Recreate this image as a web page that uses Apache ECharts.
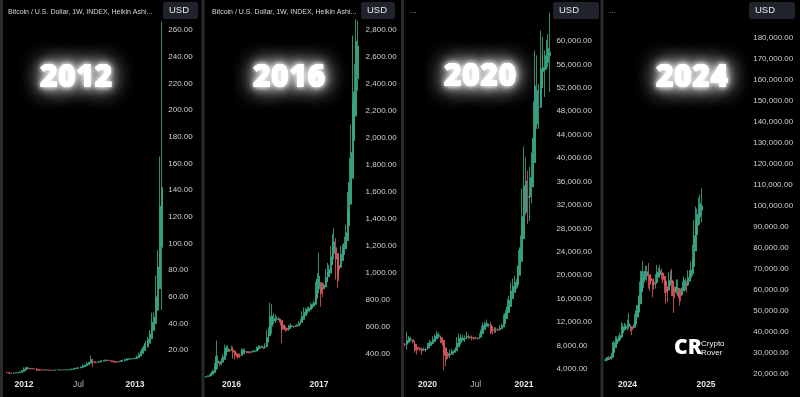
<!DOCTYPE html>
<html><head><meta charset="utf-8">
<script src="https://cdn.jsdelivr.net/npm/echarts/dist/echarts.min.js"></script>
<style>html,body{margin:0;padding:0;background:#000;}#c{width:800px;height:397px;}</style>
</head><body><div id="c"></div>
<script>
// ---------- DATA ----------
const dates2012 = ['2011-11-07','2011-11-14','2011-11-21','2011-11-28','2011-12-05','2011-12-12','2011-12-19','2011-12-26',
'2012-01-02','2012-01-09','2012-01-16','2012-01-23','2012-01-30','2012-02-06','2012-02-13','2012-02-20','2012-02-27','2012-03-05','2012-03-12','2012-03-19','2012-03-26','2012-04-02','2012-04-09','2012-04-16','2012-04-23','2012-04-30','2012-05-07','2012-05-14','2012-05-21','2012-05-28','2012-06-04','2012-06-11','2012-06-18','2012-06-25','2012-07-02','2012-07-09','2012-07-16','2012-07-23','2012-07-30','2012-08-06','2012-08-13','2012-08-20','2012-08-27','2012-09-03','2012-09-10','2012-09-17','2012-09-24','2012-10-01','2012-10-08','2012-10-15','2012-10-22','2012-10-29','2012-11-05','2012-11-12','2012-11-19','2012-11-26','2012-12-03','2012-12-10','2012-12-17','2012-12-24','2012-12-31',
'2013-01-07','2013-01-14','2013-01-21','2013-01-28','2013-02-04','2013-02-11','2013-02-18','2013-02-25','2013-03-04','2013-03-11','2013-03-18','2013-03-25','2013-04-01','2013-04-08'];
// Heikin Ashi weekly candles: [open, close, low, high]
const candles2012 = [[3.1,3.0,2.8,3.2],[3.05,2.58,2.0,3.05],[2.81,2.38,2.1,2.81],[2.6,2.8,2.5,3.2],[2.7,2.98,2.7,3.1],[2.84,3.13,2.84,3.3],[2.98,3.58,2.98,4.0],[3.28,4.35,3.28,5.0],
[3.82,5.78,3.82,7.0],[4.8,6.88,4.8,7.4],[5.84,6.6,5.84,7.2],[6.22,5.93,5.3,6.5],[6.07,5.83,5.6,6.2],[5.95,5.78,5.5,6.0],[5.86,5.03,4.2,5.86],[5.45,4.7,4.3,5.45],[5.07,4.88,4.7,5.07],[4.98,4.95,4.8,5.2],[4.96,5.13,4.9,5.4],[5.04,5.03,4.7,5.4],[5.03,4.83,4.7,5.03],[4.93,4.9,4.8,5.0],[4.91,4.9,4.8,5.0],[4.9,5.03,4.9,5.2],[4.97,5.1,4.97,5.2],[5.03,5.1,5.0,5.2],[5.07,5.03,4.9,5.1],[5.05,5.06,5.0,5.1],[5.05,5.15,5.05,5.2],[5.1,5.25,5.1,5.4],[5.18,5.48,5.18,5.7],[5.33,5.8,5.33,6.1],[5.56,6.25,5.56,6.6],[5.9,6.5,5.9,6.7],[6.2,6.73,6.2,7.0],[6.47,7.2,6.47,7.7],[6.83,8.18,6.83,9.0],[7.5,8.75,7.5,9.0],[8.13,9.8,8.13,10.9],[8.97,10.83,8.97,11.3],[9.9,12.83,9.9,15.9],[11.36,11.08,7.1,13.6],[11.22,10.45,10.0,11.22],[10.84,10.85,10.5,11.3],[10.84,11.28,10.84,11.7],[11.06,11.93,11.06,12.5],[11.5,12.28,11.5,12.5],[11.89,12.53,11.89,13.0],[12.21,12.2,11.7,12.6],[12.2,11.85,11.6,12.2],[12.03,11.38,10.7,12.03],[11.7,10.95,10.5,11.7],[11.33,10.8,10.5,11.33],[11.06,11.05,10.8,11.3],[11.06,11.7,11.06,12.3],[11.38,12.33,11.38,12.6],[11.85,12.95,11.85,13.5],[12.4,13.45,12.4,13.7],[12.93,13.43,12.93,13.6],[13.18,13.38,13.18,13.5],[13.28,13.43,13.2,13.6],
[13.35,13.88,13.35,14.4],[13.6,14.88,13.6,15.8],[14.24,16.58,14.24,18.0],[15.4,19.05,15.4,20.8],[17.2,21.75,17.2,23.5],[19.5,24.9,19.5,27.0],[22.2,28.0,22.2,30.0],[25.1,32.0,25.1,35.0],[28.55,40.85,28.55,48.0],[34.7,44.7,34.7,48.0],[39.7,60.0,39.7,76.0],[49.85,82.25,49.85,95.0],[66.0,128.0,66.0,165.0],[97.0,142.0,50.0,266.0]];
const tickDates2012 = ['2012-01-02','2012-07-02','2013-01-07'];
const tickText2012 = ['2012','Jul','2013'];

const dates2016 = ['2015-09-21','2015-09-28','2015-10-05','2015-10-12','2015-10-19','2015-10-26','2015-11-02','2015-11-09','2015-11-16','2015-11-23','2015-11-30','2015-12-07','2015-12-14','2015-12-21','2015-12-28',
'2016-01-04','2016-01-11','2016-01-18','2016-01-25','2016-02-01','2016-02-08','2016-02-15','2016-02-22','2016-02-29','2016-03-07','2016-03-14','2016-03-21','2016-03-28','2016-04-04','2016-04-11','2016-04-18','2016-04-25','2016-05-02','2016-05-09','2016-05-16','2016-05-23','2016-05-30','2016-06-06','2016-06-13','2016-06-20','2016-06-27','2016-07-04','2016-07-11','2016-07-18','2016-07-25','2016-08-01','2016-08-08','2016-08-15','2016-08-22','2016-08-29','2016-09-05','2016-09-12','2016-09-19','2016-09-26','2016-10-03','2016-10-10','2016-10-17','2016-10-24','2016-10-31','2016-11-07','2016-11-14','2016-11-21','2016-11-28','2016-12-05','2016-12-12','2016-12-19','2016-12-26',
'2017-01-02','2017-01-09','2017-01-16','2017-01-23','2017-01-30','2017-02-06','2017-02-13','2017-02-20','2017-02-27','2017-03-06','2017-03-13','2017-03-20','2017-03-27','2017-04-03','2017-04-10','2017-04-17','2017-04-24','2017-05-01','2017-05-08','2017-05-15','2017-05-22','2017-05-29','2017-06-05','2017-06-12'];
const candles2016 = [[232,232,225,237],[232,238,232,241],[235,243,235,247],[239,257,239,270],[248,275,248,285],[262,307,262,335],[284,382,284,500],[333,349,290,390],[341,326,310,341],[333,344,315,370],[339,379,339,400],[359,421,359,470],[390,447,390,465],[419,440,415,465],[429,425,415,435],
[427,440,425,460],[434,413,365,455],[423,392,360,423],[408,392,375,410],[400,377,365,400],[388,387,370,405],[388,420,388,445],[404,431,404,440],[417,419,395,440],[418,412,405,420],[415,412,405,420],[414,413,405,420],[413,418,410,425],[416,420,415,425],[418,424,418,430],[421,439,421,455],[430,451,430,466],[441,454,440,465],[447,455,445,462],[451,448,435,456],[450,458,438,480],[454,522,454,580],[488,581,488,600],[534,677,534,780],[606,682,550,770],[644,662,620,700],[653,660,630,690],[656,660,645,680],[658,661,650,675],[659,637,610,660],[648,581,480,648],[615,589,580,615],[602,580,565,602],[591,579,570,591],[585,592,570,615],[589,612,589,630],[601,607,600,612],[604,603,595,610],[603,606,598,615],[605,614,605,620],[609,629,609,645],[619,646,619,660],[633,680,633,715],[656,709,656,745],[683,720,683,740],[701,732,700,750],[717,740,717,750],[728,752,728,780],[740,767,740,775],[754,781,754,795],[767,859,767,935],[813,954,813,1000],
[883,976,850,1150],[929,849,750,929],[889,875,820,930],[882,911,882,925],[896,969,896,1030],[932,1010,932,1075],[971,1027,971,1060],[999,1121,999,1200],[1060,1227,1060,1290],[1144,1232,1100,1330],[1188,1102,950,1260],[1145,970,890,1145],[1057,1027,940,1110],[1042,1140,1042,1200],[1091,1182,1091,1210],[1137,1219,1137,1270],[1178,1300,1178,1360],[1239,1462,1239,1600],[1350,1670,1350,1850],[1510,1892,1510,2100],[1701,2262,1701,2760],[1982,2342,1982,2550],[2162,2717,2162,2880],[2440,2682,2350,2870]];
const tickDates2016 = ['2016-01-04','2017-01-02'];
const tickText2016 = ['2016','2017'];

const dates2020 = ['2019-10-14','2019-10-21','2019-10-28','2019-11-04','2019-11-11','2019-11-18','2019-11-25','2019-12-02','2019-12-09','2019-12-16','2019-12-23','2019-12-30',
'2020-01-06','2020-01-13','2020-01-20','2020-01-27','2020-02-03','2020-02-10','2020-02-17','2020-02-24','2020-03-02','2020-03-09','2020-03-16','2020-03-23','2020-03-30','2020-04-06','2020-04-13','2020-04-20','2020-04-27','2020-05-04','2020-05-11','2020-05-18','2020-05-25','2020-06-01','2020-06-08','2020-06-15','2020-06-22','2020-06-29','2020-07-06','2020-07-13','2020-07-20','2020-07-27','2020-08-03','2020-08-10','2020-08-17','2020-08-24','2020-08-31','2020-09-07','2020-09-14','2020-09-21','2020-09-28','2020-10-05','2020-10-12','2020-10-19','2020-10-26','2020-11-02','2020-11-09','2020-11-16','2020-11-23','2020-11-30','2020-12-07','2020-12-14','2020-12-21','2020-12-28',
'2021-01-04','2021-01-11','2021-01-18','2021-01-25','2021-02-01','2021-02-08','2021-02-15','2021-02-22','2021-03-01','2021-03-08','2021-03-15','2021-03-22','2021-03-29','2021-04-05','2021-04-12'];
const candles2020 = [[8250,8205,7900,8400],[8227,8855,7300,10350],[8541,9325,8541,9600],[8933,9050,8700,9500],[8991,8650,8400,8991],[8820,7712,6800,8820],[8266,7200,6500,8266],[7733,7450,7150,7750],[7591,7312,7050,7600],[7452,7082,6430,7500],[7267,7362,7100,7650],[7315,7330,6870,7600],
[7322,7850,7322,8450],[7586,8450,7586,9000],[8018,8562,8018,8750],[8290,9025,8290,9600],[8657,9575,8657,9900],[9116,10000,9116,10500],[9558,9762,9300,10200],[9660,9075,8400,9700],[9367,8450,8000,9367],[8908,6337,3800,8908],[7622,5650,4450,7622],[6636,6187,5700,6900],[6411,6575,5850,7300],[6493,7000,6493,7450],[6746,6937,6500,7200],[6841,7350,6800,7750],[7095,8425,7095,9450],[7760,9275,7760,10050],[8517,9312,8100,9950],[8914,9300,8800,9850],[9107,9187,8650,9750],[9147,9700,9147,10400],[9423,9537,9200,9950],[9480,9350,9150,9600],[9415,9275,8900,9750],[9345,9187,9000,9345],[9266,9287,9100,9450],[9276,9212,9050,9350],[9244,9575,9100,10100],[9410,10587,9410,11400],[9998,11450,9998,11900],[10724,11762,10724,12100],[11243,11825,11243,12450],[11534,11550,11100,11750],[11542,10975,9900,12050],[11258,10262,9900,11258],[10760,10687,10200,11150],[10723,10775,10150,11100],[10749,10687,10400,10950],[10718,11012,10550,11500],[10865,11450,10865,11750],[11157,12325,11157,13300],[11741,13450,11741,14050],[12595,14625,12595,15950],[13610,15712,13610,16450],[14661,17337,14661,18800],[15999,18137,15999,19450],[17068,18837,17068,19900],[17952,18850,17600,19400],[18401,21600,18401,24300],[20000,24712,20000,26800],[22356,30037,22356,34800],
[26196,35275,26196,41950],[30735,36087,30300,40100],[33411,33300,28800,37850],[33355,33575,29250,38500],[33465,36700,32300,40950],[35080,43387,35080,49700],[39230,52362,39230,58350],[45800,51550,44950,57550],[48680,48712,45000,52650],[48696,55275,48696,61800],[51985,57575,51985,60700],[54780,55500,50450,58350],[55140,57487,55140,60200],[56313,58700,55500,61200],[57506,58087,51300,64850]];
const tickDates2020 = ['2020-01-06','2020-07-06','2021-01-04'];
const tickText2020 = ['2020','Jul','2021'];

const dates2024 = ['2023-09-18','2023-09-25','2023-10-02','2023-10-09','2023-10-16','2023-10-23','2023-10-30','2023-11-06','2023-11-13','2023-11-20','2023-11-27','2023-12-04','2023-12-11','2023-12-18','2023-12-25',
'2024-01-01','2024-01-08','2024-01-15','2024-01-22','2024-01-29','2024-02-05','2024-02-12','2024-02-19','2024-02-26','2024-03-04','2024-03-11','2024-03-18','2024-03-25','2024-04-01','2024-04-08','2024-04-15','2024-04-22','2024-04-29','2024-05-06','2024-05-13','2024-05-20','2024-05-27','2024-06-03','2024-06-10','2024-06-17','2024-06-24','2024-07-01','2024-07-08','2024-07-15','2024-07-22','2024-07-29','2024-08-05','2024-08-12','2024-08-19','2024-08-26','2024-09-02','2024-09-09','2024-09-16','2024-09-23','2024-09-30','2024-10-07','2024-10-14','2024-10-21','2024-10-28','2024-11-04','2024-11-11','2024-11-18','2024-11-25','2024-12-02','2024-12-09','2024-12-16','2024-12-23','2024-12-30',
'2025-01-06','2025-01-13','2025-01-20','2025-01-27','2025-02-03','2025-02-10','2025-02-17','2025-02-24','2025-03-03','2025-03-10','2025-03-17','2025-03-24','2025-03-31','2025-04-07','2025-04-14','2025-04-21','2025-04-28','2025-05-05','2025-05-12','2025-05-19','2025-05-26','2025-06-02','2025-06-09','2025-06-16','2025-06-23','2025-06-30','2025-07-07','2025-07-14','2025-07-21'];
const candles2024 = [[26500,26600,26100,27500],[26550,27050,26000,28000],[26800,27912,26800,28600],[27356,27325,26550,27950],[27340,28400,26800,30000],[27870,32400,27870,35200],[30135,34875,30135,35950],[32505,36162,32505,38000],[34333,36800,34333,37950],[35566,37225,35566,38400],[36395,38350,36395,39700],[37372,41875,37372,44700],[39623,42525,39623,44000],[41074,42412,40550,44300],[41743,42575,41400,43800],
[42159,43212,40750,45900],[42685,44050,41500,49000],[43367,41712,40300,43367],[42540,41075,38500,42540],[41807,42587,41807,43850],[42197,45437,42197,48600],[43817,50250,43817,52850],[47033,51837,47033,52950],[49435,57237,49435,64000],[53336,64712,53336,69200],[59024,68762,59024,73800],[63893,66337,60800,68950],[65115,68875,65115,71700],[66995,68700,64500,71300],[67847,66700,60650,72800],[67273,63862,59600,67273],[65567,64412,62400,67200],[64990,62075,56550,64990],[63532,62775,60200,65500],[63153,64187,60650,67650],[63670,68412,63670,71950],[66041,68387,66041,70600],[67214,69225,67214,71950],[68219,67887,65050,70200],[68053,64975,63150,68053],[66514,61912,58400,66514],[64213,58962,53500,64213],[61587,58075,54250,61587],[59831,64487,59831,68350],[62159,67300,62159,69350],[64729,63387,57100,70050],[64058,57150,49050,64058],[60604,58825,56100,61550],[59714,61525,57850,65100],[60620,60912,57200,64950],[60766,56125,52550,60766],[58445,57312,54600,60650],[57879,61087,57500,64100],[59483,64612,59483,66500],[62047,63300,59850,65650],[62673,62062,58900,64450],[62368,65925,62368,69400],[64146,67887,64146,69500],[66016,69625,66016,73600],[67820,74550,66800,81500],[71185,85975,71185,93450],[78580,94187,78580,99800],[86383,96125,86383,98800],[91254,98212,90500,104000],[94733,101250,94150,105250],[97991,100050,92200,108350]];
const tickDates2024 = ['2024-01-01','2025-01-06'];
const tickText2024 = ['2024','2025'];

const bigYears = ['2012','2016','2020','2024'];
const headerText = 'Bitcoin / U.S. Dollar, 1W, INDEX, Heikin Ashi...';

// ---------- CHART ----------
const UP = '#3bb08f', DOWN = '#e25b5f';
const chart = echarts.init(document.getElementById('c'), null, {renderer: 'canvas'});
const fmt = v => v.toLocaleString('en-US', {minimumFractionDigits: 2, maximumFractionDigits: 2});

const panels = [
  {dates: dates2012, candles: candles2012, ticks: tickDates2012, tickText: tickText2012,
   left: 6.2, width: 157.05, top: 16.67, bottom: 47, min: 20, max: 270, interval: 20, xMargin: 30.5, yMargin: 5, bw: 1.5},
  {dates: dates2016, candles: candles2016, ticks: tickDates2016, tickText: tickText2016,
   left: 205.4, width: 153.2, top: 16.5, bottom: 43, min: 400, max: 2900, interval: 200, xMargin: 26.5, yMargin: 7, bw: 1.4},
  {dates: dates2020, candles: candles2020, ticks: tickDates2020, tickText: tickText2020,
   left: 404.3, width: 146.6, top: 29.29, bottom: 28, min: 4000, max: 62000, interval: 4000, xMargin: 11.5, yMargin: 5.5, bw: 1.4},
  {dates: dates2024, candles: candles2024, ticks: tickDates2024, tickText: tickText2024,
   left: 604.6, width: 143.6, top: 27.5, bottom: 23, min: 20000, max: 185000, interval: 10000, xMargin: 6.5, yMargin: 5, bw: 1.4}
];

const grid = [], xAxis = [], yAxis = [], series = [];
panels.forEach((p, i) => {
  grid.push({left: p.left, width: p.width, top: p.top, bottom: p.bottom, containLabel: false});
  xAxis.push({
    type: 'category', gridIndex: i, data: p.dates, boundaryGap: true,
    axisLine: {show: false}, axisTick: {show: false}, splitLine: {show: false},
    axisLabel: {
      show: true, margin: p.xMargin, hideOverlap: false,
      interval: (idx, val) => p.ticks.indexOf(val) >= 0,
      formatter: val => {
        const t = p.tickText[p.ticks.indexOf(val)];
        return /^\d{4}$/.test(t) ? '{y|' + t + '}' : '{m|' + t + '}';
      },
      rich: {
        y: {fontFamily: 'Liberation Sans', fontSize: 8.5, fontWeight: 'bold', color: '#e4e4e4'},
        m: {fontFamily: 'Liberation Sans', fontSize: 8.5, color: '#b8b8b8'}
      }
    }
  });
  yAxis.push({
    type: 'value', gridIndex: i, position: 'right', scale: false,
    min: p.min, max: p.max, interval: p.interval,
    axisLine: {show: false}, axisTick: {show: false}, splitLine: {show: false},
    axisLabel: {show: true, margin: p.yMargin, showMaxLabel: false, showMinLabel: true, hideOverlap: false,
      color: '#cfcfcf', fontSize: 8, fontFamily: 'Liberation Sans', formatter: fmt}
  });
  series.push({
    type: 'candlestick', xAxisIndex: i, yAxisIndex: i, data: p.candles, clip: false,
    barWidth: p.bw, silent: true, animation: false, large: false,
    itemStyle: {color: UP, color0: DOWN, borderColor: UP, borderColor0: DOWN, borderColorDoji: UP, borderWidth: 0.8}
  });
});

const graphics = [];
// panel separators
[0, 201.5, 401, 600.5].forEach(x => graphics.push({type: 'rect', shape: {x: x, y: 0, width: 3, height: 397}, style: {fill: '#2a2a2e'}, z: 10}));
// headers
graphics.push({type: 'text', style: {text: headerText, x: 8, y: 12, fill: '#d6d6d6', font: '7px "Liberation Sans"', textVerticalAlign: 'middle', verticalAlign: 'middle'}, z: 10});
graphics.push({type: 'text', style: {text: headerText, x: 212, y: 12, fill: '#d6d6d6', font: '7px "Liberation Sans"', textVerticalAlign: 'middle', verticalAlign: 'middle'}, z: 10});
graphics.push({type: 'text', style: {text: '...', x: 410, y: 11, fill: '#aaa', font: '8px "Liberation Sans"', textVerticalAlign: 'middle', verticalAlign: 'middle'}, z: 10});
graphics.push({type: 'text', style: {text: '...', x: 609, y: 11, fill: '#aaa', font: '8px "Liberation Sans"', textVerticalAlign: 'middle', verticalAlign: 'middle'}, z: 10});
// USD badges
[[163, 35], [361, 34], [553, 46], [749, 46]].forEach(([x, w]) => {
  graphics.push({type: 'rect', shape: {x: x, y: 2, width: w, height: 17, r: 2}, style: {fill: '#20232c'}, z: 20});
  graphics.push({type: 'text', style: {text: 'USD', x: x + 6, y: 10.5, fill: '#e8e8e8', font: '500 9.5px "Liberation Sans"', textVerticalAlign: 'middle', verticalAlign: 'middle'}, z: 21});
});
// glowing year titles
[[76, 78], [289, 78], [480, 77], [692, 78]].forEach(([x, y], i) => {
  [[22, 0.9], [22, 0.9], [10, 1], [4, 1]].forEach(([blur, a]) => {
    graphics.push({type: 'text', z: 30, style: {text: bigYears[i], x: x, y: y, fill: '#ffffff',
      font: '800 31px "Open Sans"', textAlign: 'center', align: 'center', textVerticalAlign: 'middle', verticalAlign: 'middle',
      textShadowBlur: blur, textShadowColor: 'rgba(255,255,255,' + a + ')', textShadowOffsetX: 0, textShadowOffsetY: 0}});
  });
});
// Crypto Rover logo
graphics.push({type: 'text', z: 30, style: {text: 'CR', x: 674, y: 348, fill: '#fff', font: '900 21px "Open Sans"', textVerticalAlign: 'middle', verticalAlign: 'middle'}});
graphics.push({type: 'text', z: 30, style: {text: 'Crypto', x: 701, y: 344, fill: '#eee', font: '8px "Liberation Sans"', textVerticalAlign: 'middle', verticalAlign: 'middle'}});
graphics.push({type: 'text', z: 30, style: {text: 'Rover', x: 701, y: 352.5, fill: '#eee', font: '8px "Liberation Sans"', textVerticalAlign: 'middle', verticalAlign: 'middle'}});

chart.setOption({
  backgroundColor: '#000',
  animation: false,
  grid, xAxis, yAxis, series,
  graphic: {elements: graphics}
});
</script>
</body></html>
